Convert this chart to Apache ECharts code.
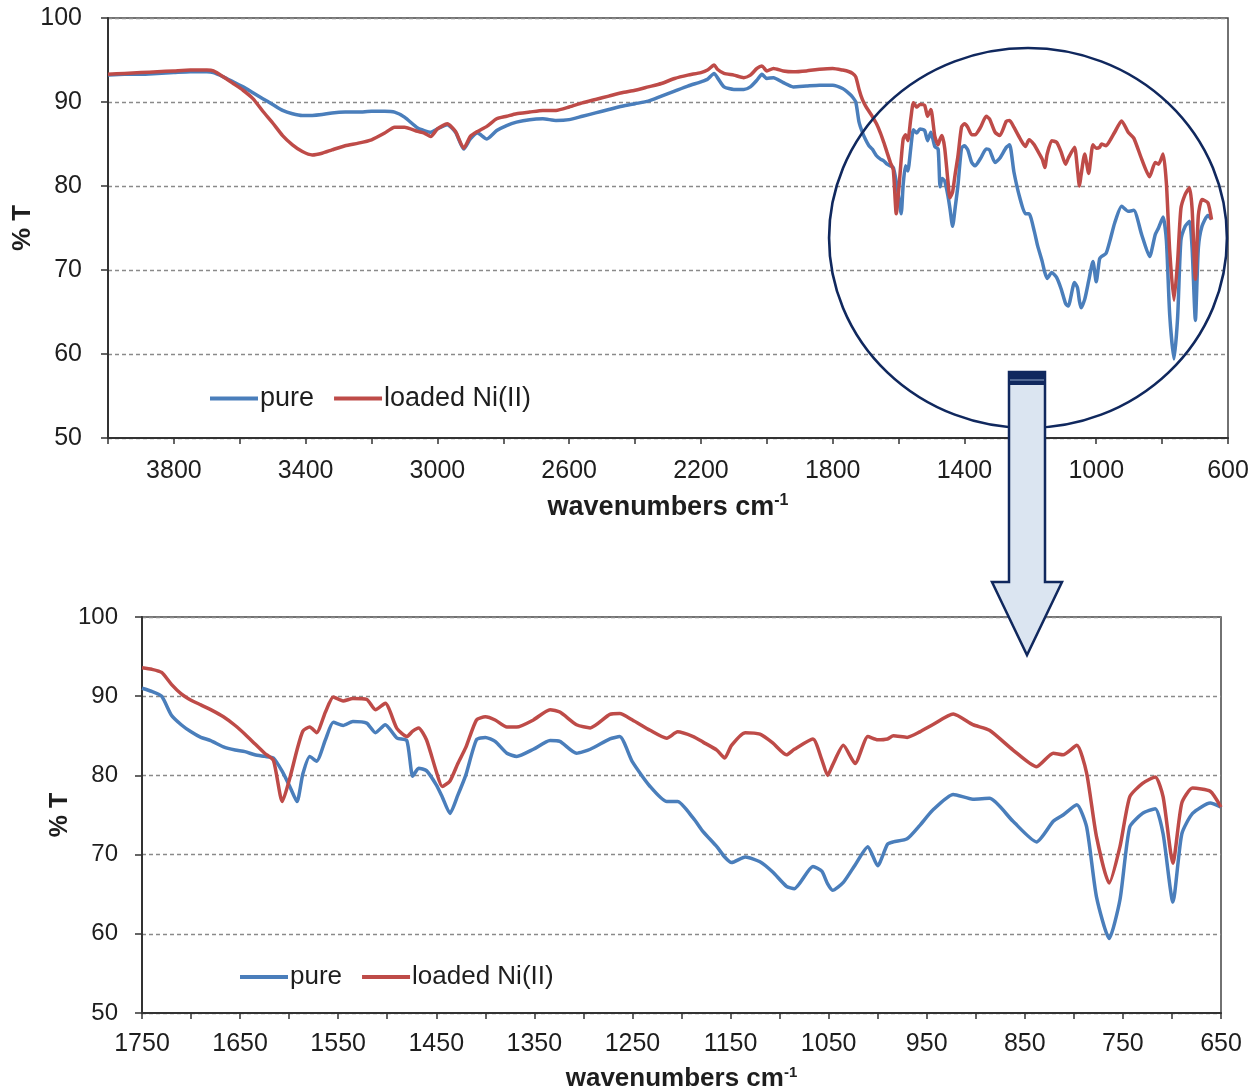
<!DOCTYPE html>
<html><head><meta charset="utf-8">
<script src="https://cdn.jsdelivr.net/npm/echarts@6/dist/echarts.min.js"></script>
<style>html,body{margin:0;padding:0;background:#fff}#c{width:1260px;height:1087px}</style>
</head><body><div id="c"></div>
<script>
// ---- data: high-wavenumber region (top chart only) ----
const wnHigh = [4000,3950,3900,3850,3800,3750,3700,3680,3650,3620,3590,3560,3530,3500,3470,3440,3410,3380,3350,3320,3280,3240,3200,3160,3130,3100,3060,3040,3020,3000,2970,2945,2920,2900,2878,2850,2820,2790,2760,2720,2680,2640,2600,2560,2520,2480,2440,2400,2360,2320,2280,2240,2200,2180,2160,2150,2130,2100,2070,2050,2030,2015,2000,1980,1950,1920,1880,1840,1800,1770];
const pureHigh = [93.2,93.3,93.3,93.4,93.5,93.6,93.6,93.5,93.0,92.4,91.8,91.1,90.4,89.7,89.0,88.6,88.4,88.4,88.5,88.7,88.8,88.8,88.9,88.9,88.8,88.2,86.9,86.6,86.4,86.8,87.3,86.4,84.4,85.6,86.3,85.6,86.6,87.2,87.6,87.9,88.0,87.8,87.9,88.3,88.7,89.1,89.5,89.8,90.1,90.7,91.3,91.9,92.4,92.7,93.4,92.9,91.8,91.5,91.5,91.8,92.6,93.3,92.8,92.9,92.3,91.8,91.9,92.0,92.0,91.6];
const loadedHigh = [93.3,93.4,93.5,93.6,93.7,93.8,93.8,93.7,93.0,92.2,91.4,90.4,88.9,87.5,86.0,84.9,84.1,83.7,83.9,84.3,84.8,85.1,85.5,86.3,87.0,87.0,86.5,86.3,85.9,86.8,87.4,86.5,84.5,85.9,86.5,87.1,88.0,88.3,88.6,88.8,89.0,89.0,89.4,89.9,90.3,90.7,91.1,91.4,91.8,92.2,92.8,93.2,93.5,93.8,94.4,93.9,93.4,93.2,92.9,93.2,94.0,94.3,93.7,94.0,93.7,93.6,93.7,93.9,94.0,93.8];

// ---- data: fingerprint region (both charts) ----
const wnLow = [1750,1740,1730,1720,1710,1700,1690,1680,1667,1655,1645,1635,1625,1616,1607,1599,1592,1586,1579,1572,1563,1555,1545,1535,1521,1512,1502,1490,1480,1474,1468,1460,1450,1444,1436,1428,1420,1409,1400,1390,1378,1368,1351,1334,1324,1307,1293,1273,1263,1250,1232,1215,1204,1188,1178,1164,1156,1149,1135,1120,1107,1093,1085,1066,1057,1051,1046,1035,1023,1010,1000,990,984,970,957,944,923,903,886,862,838,821,811,797,787,777,764,753,743,730,717,709,699,690,679,661,650];
const pureLow = [91.0,90.6,90.0,87.6,86.4,85.5,84.8,84.4,83.6,83.2,83.0,82.6,82.4,82.2,80.5,78.5,76.7,80.2,82.4,81.8,84.5,86.7,86.3,86.8,86.6,85.4,86.4,84.7,84.4,79.9,80.9,80.6,78.8,77.3,75.2,77.5,80.0,84.5,84.8,84.3,82.8,82.4,83.3,84.4,84.3,82.8,83.3,84.6,84.9,81.7,78.6,76.7,76.7,74.6,72.9,71.0,69.7,69.0,69.7,69.1,67.8,66.0,65.7,68.5,67.9,66.3,65.5,66.5,68.7,71.0,68.6,71.3,71.6,72.0,73.7,75.6,77.6,77.0,77.1,74.2,71.6,74.2,75.0,76.3,73.5,64.7,59.4,64.3,73.5,75.2,75.8,72.6,64.0,72.6,75.2,76.5,76.0];
const loadedLow = [93.6,93.4,93.0,91.5,90.3,89.5,88.9,88.3,87.4,86.3,85.2,84.0,82.8,81.9,76.7,79.8,83.2,85.6,86.1,85.4,88.0,89.9,89.4,89.7,89.6,88.3,89.1,85.9,84.9,85.6,86.0,84.5,80.5,78.6,79.3,81.5,83.5,87.0,87.4,87.0,86.1,86.1,87.0,88.3,88.0,86.4,86.0,87.7,87.8,87.0,85.7,84.7,85.5,84.9,84.2,83.2,82.2,83.8,85.4,85.2,84.1,82.6,83.3,84.6,82.0,80.0,81.3,83.8,81.5,84.9,84.5,84.6,85.0,84.8,85.5,86.4,87.75,86.4,85.7,83.2,81.1,82.8,82.6,83.8,80.3,72.3,66.4,71.0,77.3,79.0,79.8,77.3,68.9,76.5,78.4,78.0,76.0];

// ---- tick labels ----
const topXLabels = [3800,3400,3000,2600,2200,1800,1400,1000,600];
const bottomXLabels = [1750,1650,1550,1450,1350,1250,1150,1050,950,850,750,650];
const yLabels = [50,60,70,80,90,100];

const seriesNames = ['pure','loaded Ni(II)'];
const BLUE = '#4a7ebb', RED = '#be4b48';

function zip(xs, ys){ return xs.map((x,i)=>[x, ys[i]]); }
const wnAll = wnHigh.concat(wnLow);
const pureAll = pureHigh.concat(pureLow);
const loadedAll = loadedHigh.concat(loadedLow);

const FONT = 'Liberation Sans, Arial, sans-serif';
const TXT = '#1e1e1e';
const axisLineStyle = {color:'#333', width:2};
function subName(sz){
  return {
    base:{fontFamily:FONT, fontWeight:'bold', fontSize:sz, color:TXT},
    sup:{fontFamily:FONT, fontWeight:'bold', fontSize:Math.round(sz*0.58), color:TXT, padding:[0,0,Math.round(sz*0.5),0]}
  };
}

function xAxisCfg(idx, min, max, interval, labels, labelSize, nameSize, nameGap, margin){
  return {
    type:'value', gridIndex:idx, inverse:true, min:min, max:max, interval:interval,
    name:'{base|wavenumbers cm}{sup|-1}', nameLocation:'middle', nameGap:nameGap,
    nameMoveOverlap:false,
    nameTextStyle:{rich:subName(nameSize)},
    axisLine:{show:true, onZero:false, lineStyle:axisLineStyle},
    axisTick:{show:true, length:6, lineStyle:{color:'#333', width:1.5}},
    axisLabel:{fontFamily:FONT, fontSize:labelSize, color:TXT, margin:margin,
      formatter:v => labels.indexOf(v) >= 0 ? String(v) : ''},
    splitLine:{show:false}
  };
}
function yAxisCfg(idx, gap, labelSize, nameSize, margin){
  return {
    type:'value', gridIndex:idx, min:50, max:100, interval:10,
    name:'% T', nameLocation:'middle', nameGap:gap, nameMoveOverlap:false,
    nameTextStyle:{fontFamily:FONT, fontWeight:'bold', fontSize:nameSize, color:TXT},
    axisLine:{show:true, lineStyle:axisLineStyle},
    axisTick:{show:true, length:7, lineStyle:{color:'#333', width:1.5}},
    axisLabel:{fontFamily:FONT, fontSize:labelSize, color:TXT, margin:margin,
      formatter:v => yLabels.indexOf(v) >= 0 ? String(v) : ''},
    splitLine:{show:true, lineStyle:{color:'#8a8a8a', width:1.3, type:[4,3]}}
  };
}
function lineSeries(name, color, xi, data){
  return {name:name, type:'line', xAxisIndex:xi, yAxisIndex:xi, data:data,
    showSymbol:false, symbol:'none', smooth:0.2,
    lineStyle:{color:color, width:3.5}, itemStyle:{color:color}, z:3, animation:false};
}
function legendCfg(left, top, size){
  return {data:seriesNames, left:left, top:top, orient:'horizontal', icon:'rect',
    itemWidth:48, itemHeight:4, itemGap:20, padding:0,
    textStyle:{fontFamily:FONT, fontSize:size, color:TXT, padding:[0,0,0,-3]}};
}

const chart = echarts.init(document.getElementById('c'), null, {renderer:'canvas'});
chart.setOption({
  animation:false,
  backgroundColor:'#fff',
  grid:[
    {left:108, right:32, top:18, height:420, show:true, borderColor:'#444', borderWidth:1.5, containLabel:false, outerBoundsMode:'none'},
    {left:142, right:39, top:617, height:396, show:true, borderColor:'#444', borderWidth:1.5, containLabel:false, outerBoundsMode:'none'}
  ],
  xAxis:[
    xAxisCfg(0, 600, 4000, 200, topXLabels, 25, 27, 55, 21),
    xAxisCfg(1, 650, 1750, 50, bottomXLabels, 25, 26, 52, 19)
  ],
  yAxis:[ yAxisCfg(0, 72, 25, 26, 26), yAxisCfg(1, 69, 24, 25, 24) ],
  legend:[ legendCfg(210, 385, 27), legendCfg(240, 964, 26) ],
  series:[
    lineSeries('pure', BLUE, 0, zip(wnAll, pureAll)),
    lineSeries('loaded Ni(II)', RED, 0, zip(wnAll, loadedAll)),
    lineSeries('pure', BLUE, 1, zip(wnLow, pureLow)),
    lineSeries('loaded Ni(II)', RED, 1, zip(wnLow, loadedLow))
  ],
  graphic:[
    {type:'circle', x:1028, y:238, scaleX:1.047, scaleY:1, shape:{cx:0, cy:0, r:190},
      style:{fill:null, stroke:'#10285e', lineWidth:2.5}, z:100, silent:true},
    {type:'polygon', shape:{points:[[1009,372],[1045,372],[1045,582],[1062,582],[1027,655],[992,582],[1009,582]]},
      style:{fill:'#dbe5f1', stroke:'#10285e', lineWidth:2.5}, z:101, silent:true},
    {type:'rect', shape:{x:1009, y:372, width:36, height:13},
      style:{fill:'#10285e'}, z:102, silent:true},
    {type:'line', shape:{x1:1010, y1:380, x2:1044, y2:380},
      style:{stroke:'#8fa5c8', lineWidth:1.2}, z:103, silent:true}
  ]
});
</script>
</body></html>
